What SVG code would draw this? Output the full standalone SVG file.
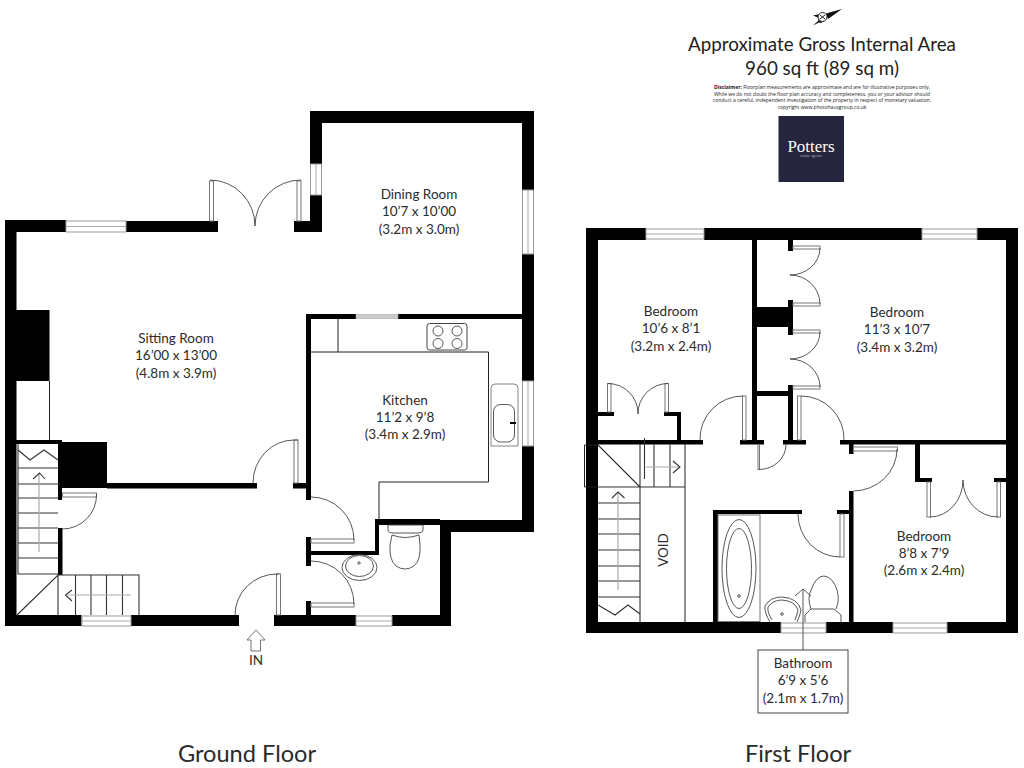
<svg xmlns="http://www.w3.org/2000/svg" width="1024" height="768" viewBox="0 0 1024 768">
<style>
text{font-family:Lato,"Open Sans","Liberation Sans",sans-serif;fill:#2b2b2b;text-anchor:middle}
.room{font-size:13.5px}
.floor{font-size:23.6px}
.title{font-size:18.8px;fill:#222}
.disc{font-family:"Open Sans",sans-serif;font-size:5px;fill:#222}
.w{fill:#000}
.l{fill:none;stroke:#222;stroke-width:1}
.t{fill:none;stroke:#333;stroke-width:1.1}
.a{fill:none;stroke:#444;stroke-width:.9}
.g{fill:none;stroke:#aaa;stroke-width:1.2}
.p{fill:#fff;stroke:#777;stroke-width:1}
.win{fill:#fff;stroke:#999;stroke-width:1}
.wl{stroke:#aaa;stroke-width:1}
</style>
<rect width="1024" height="768" fill="#fff"/>

<g id="ground-floor">
<g id="gf-walls">
<path class="w" d="M5 220H66V232H16.500V615H81.500V626H5Z"/>
<rect class="w" x="126" y="221" width="92" height="11"/>
<path class="w" d="M310 111H534V190H522V123H322V164H310Z"/>
<path class="w" d="M310 195H322V232H294V221H310Z"/>
<path class="w" d="M522 254H534V381H522ZM522 446H534V532H451V626H392V615H440V525H379V555H311V566H306V537H311V551H375V519H440V520H522Z"/>
<path class="w" d="M306 314H356V319H311V500H306Z"/>
<path class="w" d="M398 314H534V319H398Z"/>
<rect class="w" x="131" y="615" width="108" height="11"/>
<rect class="w" x="274" y="615" width="82" height="11"/>
<rect class="w" x="306" y="601" width="5" height="15"/>
<rect class="w" x="16" y="310" width="33.500" height="71"/>
<path class="w" d="M16 440H62V500H58V444H16Z"/>
<rect class="w" x="58" y="528" width="4.500" height="47"/>
<rect class="w" x="58" y="442" width="49" height="46"/>
<rect class="w" x="107" y="483" width="150" height="5.500"/>
<rect class="w" x="293" y="483" width="14" height="5.500"/>
</g>
<g id="gf-windows">
<rect class="win" x="66" y="221" width="60" height="11"/><path class="wl" d="M66 226.500H126"/>
<rect class="win" x="82" y="616" width="49" height="10"/><path class="wl" d="M82 621H131"/>
<rect class="win" x="356" y="616" width="36" height="10"/><path class="wl" d="M356 621H392"/>
<rect class="win" x="310.500" y="164" width="11" height="31"/><path class="wl" d="M316 164V195"/>
<rect class="win" x="522.500" y="190" width="11" height="64"/><path class="wl" d="M528 190V254"/>
<rect class="win" x="522.500" y="381" width="11" height="65"/><path class="wl" d="M528 381V446"/>
<rect x="356" y="314.500" width="42" height="4" fill="#ccc" stroke="#aaa" stroke-width=".6"/>
</g>
<g id="gf-doors">
<rect class="p" x="209.500" y="181" width="4" height="40"/>
<rect class="p" x="297" y="181" width="4" height="40"/>
<path class="a" d="M210 180A45 46 0 0 1 255 226A46 46 0 0 1 301 180"/>
<rect class="p" x="294" y="440" width="4" height="43"/>
<path class="a" d="M298 440H294A41 43 0 0 0 253 483"/>
<rect class="p" x="276.500" y="574" width="4" height="41"/>
<path class="a" d="M279 574H277A42 41 0 0 0 235 615"/>
<rect class="p" x="311" y="539" width="43" height="4"/>
<path class="a" d="M311 497A43 43 0 0 1 354 540"/>
<rect class="p" x="311" y="603" width="43" height="4"/>
<path class="a" d="M311 561A43 43 0 0 1 354 604"/>
<rect class="p" x="62.500" y="493" width="34" height="4"/>
<path class="a" d="M96.500 494A34 34 0 0 1 62.500 529"/>
</g>
<g id="gf-stairs">
<path class="t" d="M18 444V574H58M18 468H58M18 484H60M18 498H58M18 513H58M18 528H58M18 543H58M18 558H58"/>
<path class="t" d="M18 450L30 460L44 450L58 460"/>
<path class="g" d="M39 552V473"/>
<path class="t" d="M33 479L39.500 473L45 479"/>
<path class="t" d="M17 615L58 575H139V615M58 575V615M75.500 575V615M91 575V615M106.500 575V615M122.500 575V615"/>
<path class="g" d="M131 595H68"/>
<path class="t" d="M72 590L65.500 595L72 601"/>
</g>
<g id="gf-fittings">
<path class="l" d="M49.500 381V440"/>
<path class="l" d="M311 352H488.500V482H379V520M338 319V352"/>
<rect class="p" x="427" y="323.500" width="40" height="26.500" rx="2.500" style="stroke:#444"/>
<circle class="a" cx="438" cy="331" r="5"/><circle class="a" cx="457" cy="331" r="5"/>
<circle class="a" cx="438" cy="343.500" r="5"/><circle class="a" cx="457" cy="343.500" r="5"/>
<path class="a" style="stroke:#777" d="M491 446V388Q491 384 495 384H514Q518 384 518 388V446Z"/>
<rect class="a" x="493.500" y="404.500" width="21" height="37.500" rx="7"/>
<rect class="w" x="510" y="422" width="6" height="2"/>
<ellipse class="a" cx="359.500" cy="567.500" rx="17.500" ry="13"/>
<ellipse class="a" cx="359.500" cy="566" rx="14" ry="10.500"/>
<circle class="a" cx="359" cy="563" r="1.200"/>
<path class="a" d="M388 525H423V530Q423 533 417 533H394Q388 533 388 530Z"/>
<path class="a" d="M392 535Q405 540 419 535L420 545Q421 560 414 566Q405 572 396 566Q389 560 390 545Z"/>
</g>
<path id="gf-in-arrow" fill="#fff" stroke="#666" stroke-width=".9" d="M256 630L265 640H260.500V651H251V640H247Z"/>
<text class="room" x="256" y="665">IN</text>
<g id="room-dining"><text class="room" x="419" y="199">Dining Room</text><text class="room" x="419" y="216">10’7 x 10’00</text><text class="room" x="419" y="234">(3.2m x 3.0m)</text></g>
<g id="room-sitting"><text class="room" x="176" y="343">Sitting Room</text><text class="room" x="176" y="360">16’00 x 13’00</text><text class="room" x="176" y="378">(4.8m x 3.9m)</text></g>
<g id="room-kitchen"><text class="room" x="405" y="405">Kitchen</text><text class="room" x="405" y="422">11’2 x 9’8</text><text class="room" x="405" y="439">(3.4m x 2.9m)</text></g>
<text class="floor" x="247" y="762">Ground Floor</text>
</g>

<g id="first-floor">
<g id="ff-walls">
<path class="w" d="M586 228H646V240H598V622H781V633H586Z"/>
<rect class="w" x="704" y="228" width="218" height="12"/>
<path class="w" d="M977 228H1018V633H947V622H1006V240H977Z"/>
<rect class="w" x="826" y="622" width="67" height="11"/>
<path class="w" d="M752 240H757V307H788V300H793V335H788V327H757V391H788V385H793V440H806V444.500H783V440H788V396H757V440H764V444.500H740V440H752Z"/>
<rect class="w" x="788" y="240" width="5" height="11"/>
<rect class="w" x="598" y="440" width="105" height="4.500"/>
<rect class="w" x="598" y="412" width="16" height="4"/>
<path class="w" d="M664 412H681V440H677V416H664Z"/>
<rect class="w" x="840" y="440" width="166" height="4.500"/>
<rect class="w" x="849" y="444" width="4.500" height="10"/>
<rect class="w" x="849" y="491" width="4.500" height="131"/>
<rect class="w" x="837" y="510" width="12" height="4"/>
<path class="w" d="M713 510H802V514H718V622H713Z"/>
<path class="w" d="M915 444H920V478H932V482H915Z"/>
<rect class="w" x="994" y="478" width="13" height="4"/>
</g>
<g id="ff-windows">
<rect class="win" x="646" y="229" width="58" height="10"/><path class="wl" d="M646 234H704"/>
<rect class="win" x="922" y="229" width="55" height="10"/><path class="wl" d="M922 234H977"/>
<rect class="win" x="781" y="623" width="45" height="10"/><path class="wl" d="M781 628H826"/>
<rect class="win" x="893" y="623" width="54" height="10"/><path class="wl" d="M893 628H947"/>
</g>
<g id="ff-doors">
<rect class="p" x="607.500" y="383.500" width="3.500" height="28.500"/>
<rect class="p" x="665" y="383.500" width="3.500" height="28.500"/>
<path class="a" d="M608 383.500A30 30 0 0 1 638 414A30 30 0 0 1 668 383.500"/>
<rect class="p" x="793" y="246" width="27" height="3"/>
<rect class="p" x="793" y="303" width="27" height="3"/>
<path class="a" d="M820 248A30 27 0 0 1 790 275A30 29 0 0 1 820 304"/>
<rect class="p" x="793" y="330" width="27" height="3"/>
<rect class="p" x="793" y="386" width="27" height="3"/>
<path class="a" d="M820 332A30 27 0 0 1 790 359A30 28 0 0 1 820 387"/>
<rect class="p" x="742.500" y="396" width="3.500" height="44"/>
<path class="a" d="M743 396A43 43 0 0 0 700 440"/>
<rect class="p" x="797.500" y="396" width="3.500" height="44"/>
<path class="a" d="M801 396A43 43 0 0 1 844 440"/>
<rect class="p" x="758" y="444.500" width="1.500" height="25"/>
<path class="a" d="M759 469.500A27 25 0 0 0 786 444.500"/>
<rect class="p" x="853.500" y="447" width="44" height="4"/>
<path class="a" d="M897 449A44 42 0 0 1 853.500 491"/>
<rect class="p" x="840" y="514" width="4" height="43"/>
<path class="a" d="M798 514A42 43 0 0 0 840 557"/>
<rect class="p" x="927" y="482" width="3.500" height="35"/>
<rect class="p" x="997" y="482" width="3.500" height="35"/>
<path class="a" d="M930 517A33 37 0 0 0 963 480A35 37 0 0 0 998 517"/>
</g>
<g id="ff-stairs">
<path class="l" d="M598 445H584.500V487H598"/>
<path class="t" d="M640 444V622M685 444V622M598 487H685M598 445L640 487M654 444V487M670 444V487"/>
<path class="t" d="M598 503H640M598 519H640M598 534H640M598 550H640M598 566H640M598 581H640M598 597H640"/>
<path class="t" d="M598 605L615 615L628 605L640 614"/>
<path class="g" d="M618 590V493M646 467H680"/>
<path class="t" d="M612 498L618 492L624.500 498M673 461L680 467L673 473M644.500 438V479"/>
</g>
<g id="ff-fittings">
<rect class="p" x="718" y="515" width="42" height="106.500"/>
<ellipse class="a" cx="739" cy="568.500" rx="17" ry="49"/>
<ellipse class="a" cx="739" cy="568.500" rx="12.500" ry="40"/>
<circle class="a" cx="739" cy="596" r="1.300"/>
<path class="a" d="M770 622Q764 612 765 606Q770 597 782 597Q798 598 801 610Q800 616 797 622"/>
<path class="a" d="M772 620Q767 612 768 607Q773 600 782 600Q795 601 798 610Q797 615 795 620"/>
<circle class="a" cx="782" cy="614" r="1.300"/>
<path class="a" d="M805 622V615L811 609H834L841 615V622"/>
<path class="a" d="M811 609Q807 598 811 590Q816 576 824 576Q833 577 837 590Q840 600 836 609"/>
<path class="a" d="M803 650V589M795 596L803 589L811 596"/>
<text class="room" transform="translate(668 550) rotate(-90)" x="0" y="0">VOID</text>
</g>
<rect id="ff-bath-label-box" x="758" y="650" width="90" height="63" fill="#fff" stroke="#444" stroke-width="1"/>
<g id="room-bathroom"><text class="room" x="803" y="668">Bathroom</text><text class="room" x="803" y="685">6’9 x 5’6</text><text class="room" x="803" y="703">(2.1m x 1.7m)</text></g>
<g id="room-bed1"><text class="room" x="671" y="316">Bedroom</text><text class="room" x="671" y="333">10’6 x 8’1</text><text class="room" x="671" y="351">(3.2m x 2.4m)</text></g>
<g id="room-bed2"><text class="room" x="897" y="317">Bedroom</text><text class="room" x="897" y="334">11’3 x 10’7</text><text class="room" x="897" y="352">(3.4m x 3.2m)</text></g>
<g id="room-bed3"><text class="room" x="924" y="541">Bedroom</text><text class="room" x="924" y="558">8’8 x 7’9</text><text class="room" x="924" y="575">(2.6m x 2.4m)</text></g>
<text class="floor" x="798" y="762">First Floor</text>
</g>

<g id="header">
<g id="compass">
<path fill="#111" d="M842 9L826 13.500L828 19Z"/>
<path fill="#111" d="M813 15.500L819 18L818 21L813 25.500L819 22.500L821 23L824 21L820 14Z"/>
<circle cx="822.500" cy="17" r="4.500" fill="#fff" stroke="#222" stroke-width="1"/>
<path stroke="#222" stroke-width="1" d="M820 15L825 19M825 15L820 19"/>
</g>
<text class="title" x="822" y="51">Approximate Gross Internal Area</text>
<text class="title" x="822" y="75">960 sq ft (89 sq m)</text>
<text class="disc" x="822" y="89"><tspan font-weight="700">Disclaimer:</tspan> Floorplan measurements are approximate and are for illustrative purposes only.</text>
<text class="disc" x="822" y="95.500">While we do not doubt the floor plan accuracy and completeness, you or your advisor should</text>
<text class="disc" x="822" y="102">conduct a careful, independent investigation of the property in respect of monetary valuation.</text>
<text class="disc" x="822" y="109">copyright www.photohausgroup.co.uk</text>
<g id="logo">
<rect x="778.500" y="116" width="65.500" height="66" fill="#25253d"/>
<text x="811" y="152" style="font-family:'Liberation Serif',serif;font-size:17px;fill:#fff">Potters</text>
<text x="811" y="157" style="font-size:2.800px;fill:#ccc;letter-spacing:.4px">estate agents</text>
</g>
</g>
</svg>
